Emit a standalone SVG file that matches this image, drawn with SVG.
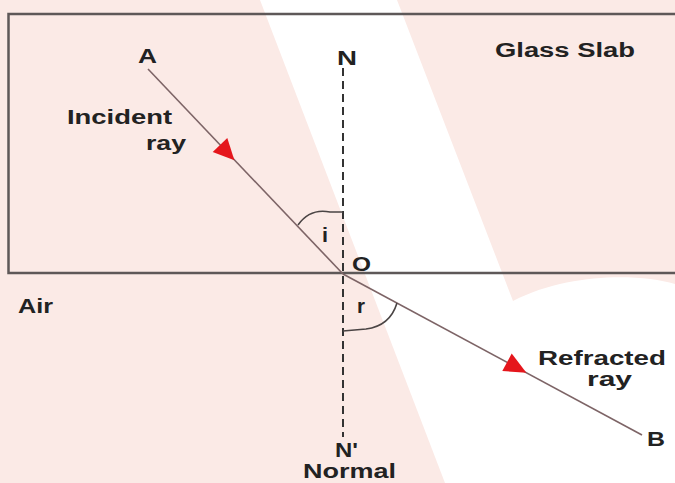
<svg xmlns="http://www.w3.org/2000/svg" width="675" height="483" viewBox="0 0 675 483">
<style>
.t{font-family:"Liberation Sans",Arial,sans-serif;font-weight:bold;font-size:20px;fill:#222}
.ray{stroke:#7d6466;stroke-width:1.6;fill:none}
.arc{stroke:#4a4444;stroke-width:1.6;fill:none}
.head{fill:#e5161c}
.pink{fill:#fbeae6}
</style>
<g id="background">
<rect x="0" y="0" width="675" height="483" fill="#ffffff"/>
<polygon class="pink" points="0,0 260,0 445,483 0,483"/>
<path class="pink" d="M 397 0 L 675 0 L 675 284 C 640 274 570 272 513 301 Z"/>
</g>
<g id="slab">
<path d="M 680 14 H 8.5 V 273 H 680" fill="none" stroke="#5e5858" stroke-width="2.5"/>
<text class="t" x="495" y="57" font-size="22" textLength="140" lengthAdjust="spacingAndGlyphs">Glass Slab</text>
</g>
<g id="connectors">
<line id="normal" x1="343" y1="68" x2="343" y2="437" stroke="#333" stroke-width="2" stroke-dasharray="8 5"/>
<line id="incident" class="ray" x1="148" y1="69" x2="343" y2="274"/>
<line id="refracted" class="ray" x1="343" y1="274" x2="642" y2="435"/>
<polygon class="head" points="227.3,138.1 212.7,151.9 234.4,160.2"/>
<polygon class="head" points="511.7,353.5 502.3,371.1 526.4,372.7"/>
<path class="arc" d="M 298 225 Q 310 208 330 212 L 343 212"/>
<path class="arc" d="M 397 303 Q 390 326 366 329 L 343 331"/>
</g>
<g id="labels">
<text class="t" x="138" y="63" textLength="19" lengthAdjust="spacingAndGlyphs">A</text>
<text class="t" x="337" y="65" font-size="22" textLength="20" lengthAdjust="spacingAndGlyphs">N</text>
<text class="t" x="67" y="124" textLength="105" lengthAdjust="spacingAndGlyphs">Incident</text>
<text class="t" x="146" y="150" textLength="40" lengthAdjust="spacingAndGlyphs">ray</text>
<text class="t" x="322" y="242" textLength="6" lengthAdjust="spacingAndGlyphs">i</text>
<text class="t" x="352" y="271" font-size="21" textLength="19" lengthAdjust="spacingAndGlyphs">O</text>
<text class="t" x="18" y="313" textLength="35" lengthAdjust="spacingAndGlyphs">Air</text>
<text class="t" x="357" y="313" textLength="8" lengthAdjust="spacingAndGlyphs">r</text>
<text class="t" x="538" y="365" textLength="128" lengthAdjust="spacingAndGlyphs">Refracted</text>
<text class="t" x="587" y="386" textLength="45" lengthAdjust="spacingAndGlyphs">ray</text>
<text class="t" x="647" y="446" textLength="18" lengthAdjust="spacingAndGlyphs">B</text>
<text class="t" x="335" y="457" textLength="23" lengthAdjust="spacingAndGlyphs">N'</text>
<text class="t" x="303" y="478" textLength="93" lengthAdjust="spacingAndGlyphs">Normal</text>
</g>
</svg>
